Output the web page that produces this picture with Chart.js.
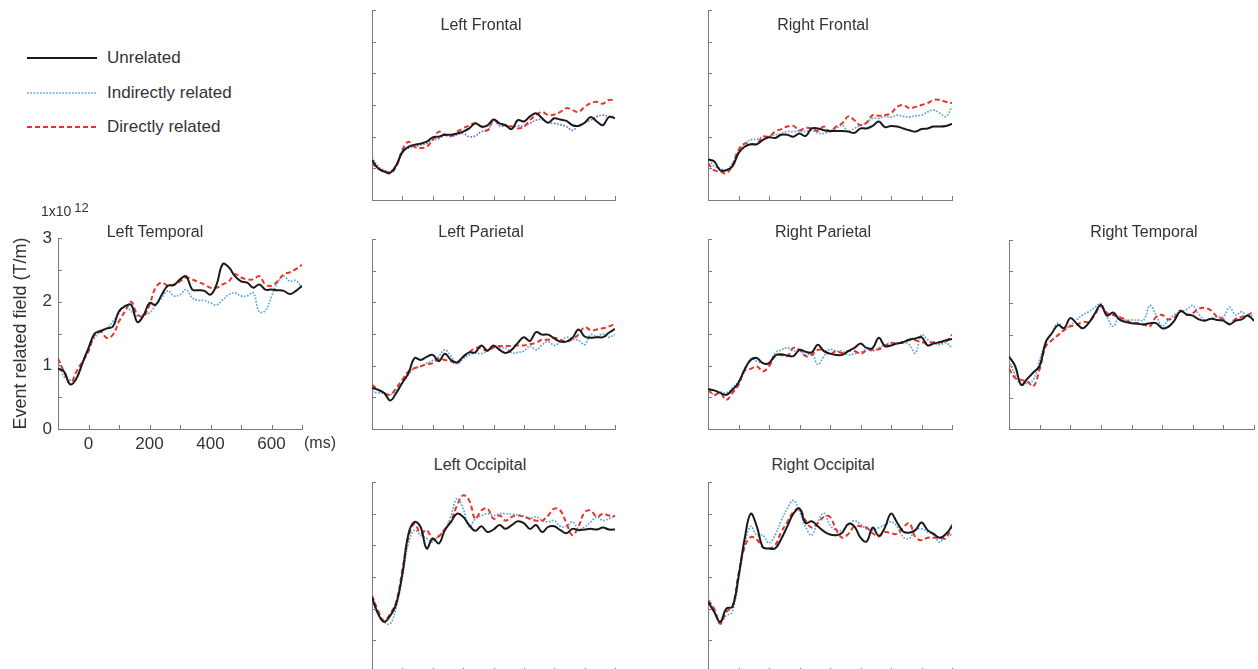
<!DOCTYPE html>
<html>
<head>
<meta charset="utf-8">
<script src="https://cdn.jsdelivr.net/npm/chart.js@4.4.1/dist/chart.umd.min.js"></script>
<style>
html,body{margin:0;padding:0;width:1258px;height:669px;overflow:hidden;background:#fff;font-family:"Liberation Sans",Arial,sans-serif;color:#333;position:relative}
canvas{position:absolute}
.ptitle{position:absolute;font-size:16px;white-space:nowrap;transform:translate(-50%,-50%);color:#333}
.lg{position:absolute;font-size:17px;white-space:nowrap;transform:translateY(-50%);color:#333}
.lgline{position:absolute}
</style>
</head>
<body>
<script>
// ---------------- DATA ----------------
const timesMs = [-100,-80,-60,-40,-20,0,20,40,60,80,100,120,140,160,180,200,220,240,260,280,300,320,340,360,380,400,420,440,460,480,500,520,540,560,580,600,620,640,660,680,700];
const xTickLabels = [0,200,400,600];
const yTickLabels = [0,1,2,3];
const seriesNames = ['Unrelated','Indirectly related','Directly related'];
const panelTitles = ['Left Temporal','Left Frontal','Right Frontal','Left Parietal','Right Parietal','Right Temporal','Left Occipital','Right Occipital'];

// Left Temporal
const ltUnrelated = [0.95,0.90,0.70,0.79,1.03,1.27,1.50,1.54,1.58,1.61,1.85,1.93,1.95,1.68,1.78,1.98,1.95,2.11,2.25,2.26,2.35,2.40,2.19,2.18,2.17,2.11,2.27,2.59,2.54,2.40,2.32,2.30,2.22,2.27,2.19,2.19,2.18,2.17,2.12,2.17,2.25];
const ltIndirect  = [1.06,0.82,0.77,0.79,1.06,1.27,1.43,1.53,1.58,1.69,1.82,1.93,1.85,1.77,1.80,1.82,1.95,2.06,2.17,2.09,2.11,2.19,2.06,2.02,2.02,1.98,1.95,2.03,2.11,2.14,2.09,2.09,2.14,1.84,1.86,2.08,2.30,2.40,2.32,2.33,2.22];
const ltDirect    = [1.11,0.90,0.71,0.90,1.06,1.22,1.48,1.53,1.43,1.48,1.69,1.85,2.00,1.80,1.77,1.95,2.22,2.30,2.25,2.27,2.32,2.38,2.35,2.31,2.27,2.22,2.22,2.27,2.32,2.43,2.38,2.35,2.35,2.40,2.27,2.25,2.32,2.43,2.46,2.51,2.58];
// Left Frontal
const lfUnrelated = [0.63,0.50,0.45,0.43,0.55,0.76,0.84,0.87,0.89,0.92,0.99,1.00,1.03,1.03,1.05,1.08,1.13,1.21,1.16,1.18,1.27,1.21,1.18,1.12,1.26,1.24,1.32,1.37,1.29,1.22,1.29,1.27,1.25,1.18,1.17,1.22,1.31,1.24,1.18,1.31,1.29];
const lfIndirect  = [0.68,0.53,0.47,0.45,0.55,0.74,0.82,0.84,0.87,0.89,0.95,0.97,1.03,1.00,1.03,1.05,1.00,1.01,1.08,1.10,1.26,1.17,1.17,1.16,1.17,1.17,1.21,1.26,1.27,1.22,1.21,1.19,1.16,1.10,1.18,1.22,1.26,1.32,1.34,1.32,1.32];
const lfDirect    = [0.58,0.50,0.45,0.42,0.53,0.79,0.92,0.84,0.82,0.84,0.95,1.08,1.03,1.01,1.08,1.13,1.18,1.21,1.16,1.10,1.26,1.20,1.18,1.16,1.13,1.16,1.26,1.34,1.39,1.34,1.35,1.39,1.45,1.42,1.39,1.47,1.53,1.55,1.52,1.58,1.57];
// Right Frontal
const rfUnrelated = [0.64,0.61,0.47,0.47,0.53,0.74,0.84,0.88,0.88,0.95,0.99,0.98,1.03,1.03,1.00,1.05,1.01,1.13,1.13,1.10,1.09,1.09,1.09,1.08,1.06,1.13,1.13,1.17,1.24,1.15,1.17,1.16,1.13,1.10,1.08,1.12,1.13,1.16,1.16,1.17,1.20];
const rfIndirect  = [0.68,0.53,0.50,0.47,0.58,0.76,0.89,0.95,0.96,1.00,1.01,1.03,1.05,1.08,1.08,1.09,1.08,1.10,1.06,1.05,1.09,1.13,1.18,1.08,1.13,1.18,1.22,1.29,1.29,1.32,1.31,1.34,1.32,1.31,1.33,1.34,1.39,1.42,1.37,1.32,1.47];
const rfDirect    = [0.58,0.47,0.45,0.42,0.55,0.79,0.89,0.88,0.89,1.00,1.00,1.08,1.12,1.16,1.17,1.10,1.14,1.13,1.09,1.16,1.08,1.16,1.21,1.32,1.26,1.18,1.22,1.34,1.33,1.34,1.37,1.47,1.50,1.45,1.47,1.50,1.53,1.58,1.58,1.55,1.53];
// Left Parietal
const lpUnrelated = [0.65,0.62,0.57,0.45,0.57,0.73,0.88,1.12,1.09,1.14,1.17,1.07,1.19,1.09,1.05,1.14,1.21,1.21,1.32,1.24,1.32,1.25,1.20,1.25,1.36,1.45,1.39,1.53,1.49,1.49,1.43,1.38,1.38,1.44,1.57,1.46,1.44,1.45,1.45,1.52,1.58];
const lpIndirect  = [0.59,0.57,0.57,0.54,0.62,0.73,0.86,0.96,0.99,1.04,1.08,1.15,1.25,1.15,1.03,1.11,1.17,1.20,1.19,1.23,1.28,1.28,1.28,1.20,1.21,1.23,1.31,1.25,1.33,1.38,1.32,1.38,1.45,1.42,1.40,1.33,1.49,1.46,1.50,1.45,1.49];
const lpDirect    = [0.70,0.62,0.57,0.54,0.65,0.78,0.91,0.96,0.99,1.02,1.04,1.11,1.09,1.07,1.04,1.14,1.21,1.28,1.28,1.23,1.29,1.31,1.31,1.31,1.32,1.32,1.34,1.36,1.41,1.41,1.44,1.41,1.38,1.42,1.49,1.61,1.56,1.57,1.59,1.62,1.66];
// Right Parietal
const rpUnrelated = [0.63,0.61,0.57,0.54,0.62,0.73,0.94,1.09,1.12,1.04,1.04,1.16,1.18,1.16,1.15,1.25,1.22,1.21,1.33,1.23,1.19,1.17,1.17,1.23,1.28,1.35,1.28,1.28,1.44,1.31,1.32,1.35,1.37,1.41,1.43,1.45,1.32,1.35,1.37,1.40,1.42];
const rpIndirect  = [0.65,0.54,0.58,0.57,0.65,0.75,0.91,1.11,1.07,1.04,1.02,1.20,1.25,1.28,1.23,1.25,1.17,1.20,1.02,1.15,1.26,1.23,1.23,1.17,1.19,1.21,1.26,1.23,1.28,1.33,1.36,1.35,1.37,1.33,1.20,1.49,1.41,1.35,1.33,1.36,1.28];
const rpDirect    = [0.62,0.54,0.57,0.46,0.57,0.70,0.92,0.95,0.99,0.91,0.99,1.15,1.17,1.15,1.28,1.25,1.15,1.17,1.25,1.24,1.18,1.23,1.20,1.23,1.23,1.19,1.24,1.25,1.26,1.31,1.36,1.35,1.37,1.41,1.40,1.37,1.36,1.37,1.37,1.38,1.49];
// Right Temporal
const rtUnrelated = [1.15,1.00,0.70,0.80,0.90,1.00,1.38,1.52,1.65,1.60,1.76,1.68,1.60,1.68,1.83,1.97,1.80,1.85,1.74,1.70,1.68,1.67,1.66,1.68,1.68,1.60,1.62,1.72,1.87,1.82,1.80,1.74,1.72,1.75,1.73,1.72,1.66,1.72,1.74,1.80,1.72];
const rtIndirect  = [1.09,0.86,0.70,0.73,0.78,1.09,1.36,1.52,1.68,1.59,1.65,1.73,1.81,1.86,1.93,1.99,1.78,1.63,1.78,1.73,1.73,1.73,1.73,1.96,1.81,1.63,1.73,1.81,1.86,1.90,1.96,1.82,1.73,1.75,1.78,1.78,1.93,1.81,1.86,1.78,1.82];
const rtDirect    = [0.96,0.81,0.78,0.75,0.68,0.95,1.31,1.41,1.49,1.57,1.63,1.65,1.70,1.70,1.81,1.95,1.84,1.81,1.77,1.74,1.68,1.68,1.66,1.63,1.78,1.81,1.74,1.77,1.88,1.81,1.84,1.91,1.92,1.88,1.78,1.74,1.67,1.75,1.78,1.81,1.87];
// Left Occipital
const loUnrelated = [1.18,0.92,0.79,0.89,1.08,1.55,2.18,2.37,2.29,1.95,2.11,2.03,2.24,2.37,2.50,2.45,2.32,2.23,2.30,2.21,2.25,2.32,2.26,2.32,2.38,2.35,2.26,2.32,2.21,2.29,2.30,2.24,2.19,2.26,2.24,2.25,2.26,2.25,2.28,2.25,2.25];
const loIndirect  = [1.13,0.92,0.79,0.76,1.03,1.50,2.03,2.24,2.16,2.11,2.05,2.16,2.24,2.47,2.74,2.58,2.29,2.42,2.47,2.50,2.47,2.50,2.50,2.49,2.48,2.46,2.42,2.45,2.39,2.37,2.39,2.30,2.30,2.37,2.26,2.29,2.37,2.45,2.39,2.42,2.47];
const loDirect    = [1.21,0.97,0.81,0.92,1.11,1.61,2.13,2.34,2.19,2.24,2.09,2.14,2.26,2.39,2.63,2.79,2.71,2.42,2.55,2.58,2.42,2.47,2.39,2.45,2.47,2.45,2.42,2.39,2.39,2.47,2.58,2.55,2.35,2.16,2.30,2.52,2.55,2.45,2.50,2.47,2.46];
// Right Occipital
const roUnrelated = [1.11,0.95,0.79,1.00,1.03,1.50,2.10,2.50,2.30,1.97,1.95,1.95,2.10,2.30,2.50,2.58,2.35,2.38,2.30,2.22,2.17,2.16,2.20,2.34,2.30,2.12,2.06,2.28,2.15,2.28,2.50,2.36,2.22,2.20,2.24,2.36,2.24,2.18,2.12,2.18,2.30];
const roIndirect  = [1.18,0.97,0.79,0.89,0.95,1.45,2.00,2.30,2.16,2.16,2.04,2.16,2.39,2.58,2.71,2.53,2.29,2.16,2.37,2.51,2.32,2.24,2.24,2.32,2.39,2.33,2.26,2.24,2.28,2.32,2.37,2.30,2.13,2.11,2.24,2.26,2.21,2.16,2.05,2.18,2.16];
const roDirect    = [1.13,1.00,0.76,0.95,1.03,1.55,1.97,2.13,2.09,1.97,1.95,2.00,2.21,2.37,2.53,2.58,2.39,2.28,2.35,2.45,2.45,2.25,2.12,2.18,2.30,2.30,2.28,2.19,2.14,2.21,2.19,2.18,2.28,2.35,2.13,2.08,2.12,2.12,2.12,2.11,2.33];

// ---------------- LAYOUT / STYLE ----------------
const panelBoxes = [
  {l:58,   t:238, r:302,  b:429, labelled:true},
  {l:372,  t:10,  r:615,  b:200},
  {l:708,  t:10,  r:952,  b:200},
  {l:372,  t:239, r:615,  b:429},
  {l:708,  t:239, r:952,  b:429},
  {l:1009, t:240, r:1254, b:429},
  {l:372,  t:482, r:615,  b:672},
  {l:708,  t:482, r:952,  b:672}
];
const titlePos = [[155,232],[481,25],[823,25],[481,232],[823,232],[1144,232],[480,465],[823,465]];
const panelSeries = [
  [ltUnrelated, ltIndirect, ltDirect],
  [lfUnrelated, lfIndirect, lfDirect],
  [rfUnrelated, rfIndirect, rfDirect],
  [lpUnrelated, lpIndirect, lpDirect],
  [rpUnrelated, rpIndirect, rpDirect],
  [rtUnrelated, rtIndirect, rtDirect],
  [loUnrelated, loIndirect, loDirect],
  [roUnrelated, roIndirect, roDirect]
];
const BLACK = '#1a1a1a', BLUE = '#5aa6e2', PURPLE = '#7c72c6', RED = '#e8352a', AXIS = '#7a7a7a';

Chart.defaults.font.family = '"Liberation Sans", Arial, sans-serif';
Chart.defaults.color = '#333';

const innerTicks = {
  id: 'innerTicks',
  afterDraw(chart) {
    const {ctx, chartArea} = chart;
    const xs = chart.scales.x, ys = chart.scales.y;
    ctx.save();
    ctx.strokeStyle = AXIS;
    ctx.lineWidth = 1;
    ctx.beginPath();
    ys.ticks.forEach(t => {
      const py = Math.round(ys.getPixelForValue(t.value)) + 0.5;
      ctx.moveTo(chartArea.left, py); ctx.lineTo(chartArea.left + 4, py);
    });
    xs.ticks.forEach(t => {
      const px = Math.round(xs.getPixelForValue(t.value)) + 0.5;
      ctx.moveTo(px, chartArea.bottom); ctx.lineTo(px, chartArea.bottom - 4);
    });
    ctx.stroke();
    ctx.restore();
  }
};

function pts(vals) { return timesMs.map((t, i) => ({x: t, y: vals[i]})); }

panelBoxes.forEach((box, k) => {
  const labelled = !!box.labelled;
  let cl, ct, cw, ch, pad, yW, xH;
  if (labelled) {
    cl = 0; ct = 195; cw = 345; ch = 262;
    yW = box.l - cl; xH = ct + ch - box.b;
    pad = {left: 0, top: box.t - ct, right: cl + cw - box.r, bottom: 0};
  } else {
    const p = 6;
    cl = box.l - p; ct = box.t - p; cw = box.r - box.l + 2 * p; ch = box.b - box.t + 2 * p;
    yW = 0; xH = 0;
    pad = {left: p, top: p, right: p, bottom: p};
  }
  const cv = document.createElement('canvas');
  cv.width = cw; cv.height = ch;
  cv.style.left = cl + 'px'; cv.style.top = ct + 'px';
  cv.style.width = cw + 'px'; cv.style.height = ch + 'px';
  document.body.appendChild(cv);

  const [u, ind, dir] = panelSeries[k];
  const blue = k === 1 ? PURPLE : BLUE;
  new Chart(cv, {
    type: 'line',
    data: {
      datasets: [
        {label: seriesNames[0], data: pts(u), borderColor: BLACK, borderWidth: 2, order: 0},
        {label: seriesNames[2], data: pts(dir), borderColor: RED, borderWidth: 2, borderDash: [5, 3], order: 1},
        {label: seriesNames[1], data: pts(ind), borderColor: blue, borderWidth: 1.7, borderDash: [1.7, 1.5], order: 2}
      ]
    },
    options: {
      responsive: false, animation: false, events: [],
      layout: {padding: pad},
      elements: {point: {radius: 0}, line: {tension: 0.4, fill: false, capBezierPoints: true}},
      plugins: {legend: {display: false}, tooltip: {enabled: false}, title: {display: false}},
      scales: {
        x: {
          type: 'linear', min: -100, max: 700,
          grid: {display: false, drawTicks: false},
          border: {display: true, color: AXIS, width: 1},
          ticks: {
            display: labelled, stepSize: 100, autoSkip: false, maxRotation: 0, padding: 5,
            font: {size: 17}, color: '#333',
            callback: v => xTickLabels.includes(v) ? String(v) : ''
          },
          afterFit: s => { s.height = xH; }
        },
        y: {
          type: 'linear', min: 0, max: 3,
          grid: {display: false, drawTicks: false},
          border: {display: true, color: AXIS, width: 1},
          ticks: {
            display: labelled, stepSize: 0.5, autoSkip: false, padding: 6,
            font: {size: 17}, color: '#333',
            callback: v => yTickLabels.includes(v) ? String(v) : ''
          },
          title: {
            display: labelled, text: 'Event related field (T/m)',
            font: {size: 18}, color: '#333', padding: {top: 10, bottom: 0}
          },
          afterFit: s => { s.width = yW; }
        }
      }
    },
    plugins: [innerTicks]
  });

  const tt = document.createElement('div');
  tt.className = 'ptitle';
  tt.textContent = panelTitles[k];
  tt.style.left = titlePos[k][0] + 'px';
  tt.style.top = titlePos[k][1] + 'px';
  document.body.appendChild(tt);
});

// legend
const legendRows = [
  {name: seriesNames[0], color: BLACK, w: 2, dash: ''},
  {name: seriesNames[1], color: BLUE, w: 1.7, dash: '1.7 1.5'},
  {name: seriesNames[2], color: RED, w: 2, dash: '5 3'}
];
const legendY = [58, 93, 127];
legendRows.forEach((r, i) => {
  const svg = document.createElementNS('http://www.w3.org/2000/svg', 'svg');
  svg.setAttribute('class', 'lgline');
  svg.setAttribute('width', '72'); svg.setAttribute('height', '6');
  svg.style.left = '27px'; svg.style.top = (legendY[i] - 3) + 'px';
  const ln = document.createElementNS('http://www.w3.org/2000/svg', 'line');
  ln.setAttribute('x1', '0'); ln.setAttribute('x2', '70'); ln.setAttribute('y1', '3'); ln.setAttribute('y2', '3');
  ln.setAttribute('stroke', r.color); ln.setAttribute('stroke-width', r.w);
  if (r.dash) ln.setAttribute('stroke-dasharray', r.dash);
  svg.appendChild(ln);
  document.body.appendChild(svg);
  const d = document.createElement('div');
  d.className = 'lg'; d.textContent = r.name;
  d.style.left = '107px'; d.style.top = legendY[i] + 'px';
  document.body.appendChild(d);
});

// exponent and unit labels
const ex = document.createElement('div');
ex.style.cssText = 'position:absolute;left:41px;top:203px;font-size:14px;color:#333;white-space:nowrap';
ex.innerHTML = '1x10<span style="position:relative;top:-4px;margin-left:3px;font-size:13px">12</span>';
document.body.appendChild(ex);
const ms = document.createElement('div');
ms.style.cssText = 'position:absolute;left:304px;top:443px;transform:translateY(-50%);font-size:16px;color:#333;white-space:nowrap';
ms.textContent = '(ms)';
document.body.appendChild(ms);
</script>
</body>
</html>
